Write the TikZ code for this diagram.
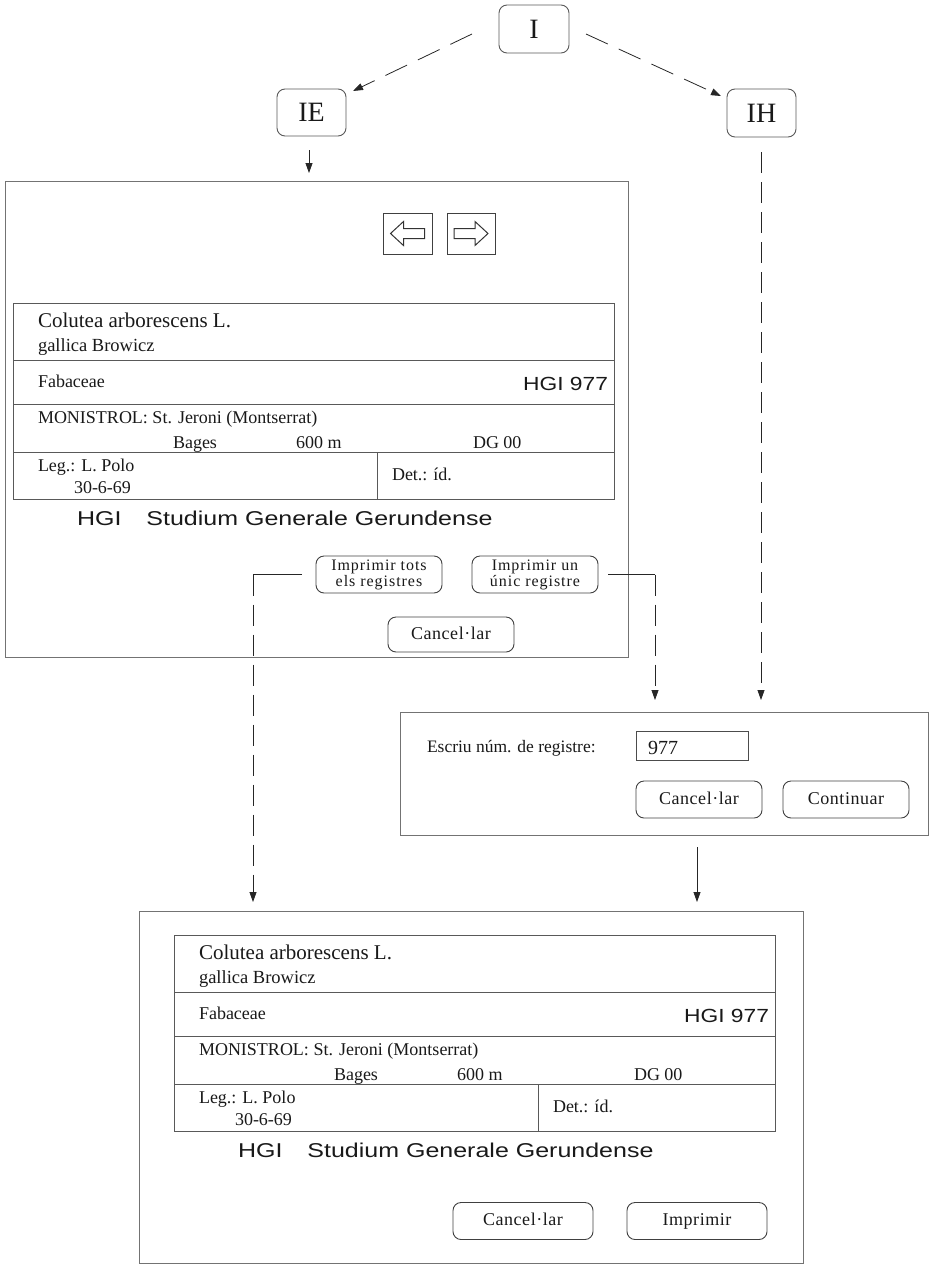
\documentclass[tikz,border=0pt]{standalone}
\usepackage{fontspec}
\setmainfont{Liberation Serif}
\newfontfamily\sansf{Liberation Sans}
\newfontfamily\btnf[LetterSpace=6]{Liberation Serif}
\newfontfamily\btng[LetterSpace=3]{Liberation Serif}
\usetikzlibrary{arrows.meta,calc}
\newcommand\myfs[1]{\fontsize{#1}{#1}\selectfont}
\newcommand\wsans[3]{{\sansf\myfs{#1}\scalebox{#2}[1]{#3}}}

\newcommand\herbcard[1]{%
  \draw[cardline] (0,0) rectangle (601,196);
  \draw[cardline] (0,57) -- (601,57);
  \draw[cardline] (0,101) -- (601,101);
  \draw[cardline] (0,149) -- (601,149);
  \draw[cardline] (364,149) -- (364,196);
  \node[txt,font=\myfs{21}] (#1a) at (25,24) {Colutea arborescens L.};
  \node[txt,font=\myfs{18.5}] (#1b) at (25,48) {gallica Browicz};
  \node[txt,font=\myfs{18}] (#1c) at (25,84) {Fabaceae};
  \node[anchor=base east,text=black!90] (#1d) at (595,87) {\wsans{19}{1.2}{HGI 977}};
  \node[txt,font=\myfs{18}] (#1e) at (25,120) {MONISTROL: St. Jeroni (Montserrat)};
  \node[txt,font=\myfs{18}] (#1f) at (160,145) {Bages};
  \node[txt,font=\myfs{18}] (#1g) at (283,145) {600 m};
  \node[txt,font=\myfs{18}] (#1h) at (460,145) {DG 00};
  \node[txt,font=\myfs{18}] (#1i) at (25,168) {Leg.: L. Polo};
  \node[txt,font=\myfs{18}] (#1j) at (61,190) {30-6-69};
  \node[txt,font=\myfs{18}] (#1k) at (379,177) {Det.: íd.};
  \node[txt] (#1l) at (64,222) {\wsans{20}{1.25}{HGI\hspace{1em}Studium Generale Gerundense}};
}

\begin{document}
\begin{tikzpicture}[x=1pt,y=-1pt,
  every node/.style={inner sep=0pt, outer sep=0pt},
  frame/.style={draw=black!55, line width=0.8pt},
  cardline/.style={draw=black!65, line width=0.8pt},
  rbox/.style={draw=black!65, line width=0.9pt, rounded corners=8pt, text=black!90},
  btn/.style={draw=black!75, line width=0.9pt, rounded corners=8pt, text=black!90,
    align=center, font=\btng\myfs{18}},
  btn1/.style={btn, text height=12pt, text depth=3pt},
  conn/.style={draw=black!85, line width=0.8pt},
  dconn/.style={conn, dash pattern=on 21pt off 9pt},
  tip/.style={-{Triangle[length=10pt,width=7pt]}},
  txt/.style={anchor=base west, text=black!90},
]
\useasboundingbox (0,0) rectangle (929,1264);

% top nodes
\node[rbox, minimum width=70pt, minimum height=48pt, font=\myfs{28}] (I) at (534,29) {I};
\node[rbox, minimum width=69pt, minimum height=47pt, font=\myfs{28}] (IE) at (311.5,112.5) {IE};
\node[rbox, minimum width=69pt, minimum height=48pt, font=\myfs{28}] (IH) at (761.5,113) {IH};

\coordinate (a1s) at (472,34);
\coordinate (a1e) at (353,91);
\coordinate (a2s) at (586,34);
\coordinate (a2e) at (721,96);
\draw[conn, tip, dash pattern=on 24pt off 12pt] (a1s) -- (a1e);
\draw[conn, tip, dash pattern=on 24pt off 12pt] (a2s) -- (a2e);

% window 1
\draw[frame] (5,181) rectangle (628,657);
\coordinate (w1top) at (309,173);
\draw[conn, tip, shorten <=14pt] (IE.south -| w1top) -- (w1top);

% nav buttons
\node[draw=black!75, line width=0.9pt, minimum width=49pt, minimum height=41pt] (navL) at (407.5,233.5) {};
\node[draw=black!75, line width=0.9pt, minimum width=48pt, minimum height=41pt] (navR) at (471,233.5) {};
\draw[draw=black!80, line width=1pt, line join=miter]
  ($(navL.center)+(-17,0)$) -- ++(13,-12) -- ++(0,7) -- ++(21,0) -- ++(0,10) -- ++(-21,0) -- ++(0,7) -- cycle;
\draw[draw=black!80, line width=1pt, line join=miter]
  ($(navR.center)+(17,0)$) -- ++(-13,-12) -- ++(0,7) -- ++(-21,0) -- ++(0,10) -- ++(21,0) -- ++(0,7) -- cycle;

\begin{scope}[shift={(13,303)}]
\herbcard{ca}
\end{scope}

\node[btn, font=\btnf\myfs{16}, minimum width=126pt, minimum height=37pt] (tots) at (379,574.5)
  {\baselineskip=15pt Imprimir tots\\els registres};
\node[btn, font=\btnf\myfs{16}, minimum width=126pt, minimum height=37pt] (unic) at (535,574.5)
  {\baselineskip=15pt Imprimir un\\únic registre};
\node[btn1, minimum width=126pt, minimum height=35pt] (canc1) at (451,634.5) {Cancel·lar};

% connectors from buttons
\coordinate (lcorner) at (253,574.5);
\coordinate (ltip) at (253,902);
\draw[conn, shorten <=14pt] (tots.west) -- (lcorner);
\draw[dconn, tip] (lcorner) -- (ltip);
\coordinate (rcorner) at (655,574.5);
\coordinate (rtip) at (655,700);
\draw[conn, shorten <=10pt] (unic.east) -- (rcorner);
\draw[dconn, tip] (rcorner) -- (rtip);
\coordinate (ihtip) at (761,700);
\draw[dconn, tip, shorten <=15pt] (IH.south -| ihtip) -- (ihtip);

% window 2
\draw[frame] (400,712) rectangle (928,835);
\node[txt, font=\myfs{17.5}] (escriu) at (427,752) {Escriu núm. de registre:};
\node[draw=black!70, line width=0.8pt, minimum width=112pt, minimum height=29pt] (field) at (692,746) {};
\node[txt, font=\myfs{20}] (num) at (648,754) {977};
\node[btn1, minimum width=126pt, minimum height=37pt] (canc2) at (699,799.5) {Cancel·lar};
\node[btn1, minimum width=126pt, minimum height=37pt] (cont) at (846,799.5) {Continuar};
\coordinate (w2out) at (697,847);
\coordinate (w3tip) at (697,902);
\draw[conn, tip] (w2out) -- (w3tip);

% window 3
\draw[frame] (139,911) rectangle (803,1263);
\begin{scope}[shift={(174,935)}]
\herbcard{cb}
\end{scope}
\node[btn1, minimum width=140pt, minimum height=37pt] (canc3) at (523,1221) {Cancel·lar};
\node[btn1, minimum width=140pt, minimum height=37pt] (impr) at (697,1221) {Imprimir};
\end{tikzpicture}
\end{document}
